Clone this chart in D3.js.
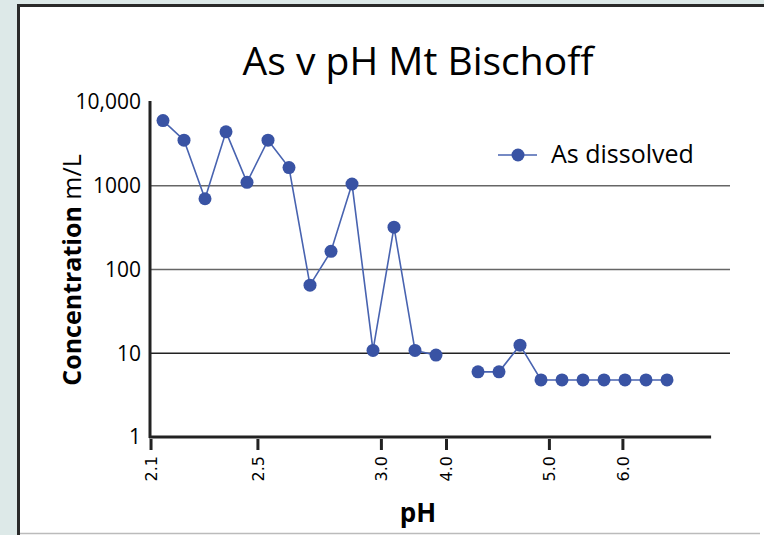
<!DOCTYPE html>
<html>
<head>
<meta charset="utf-8">
<script src="https://cdn.jsdelivr.net/npm/d3@7"></script>
<style>
  body { margin: 0; background: #dde9e8; }
  svg { display: block; }
  .hand { font-family: "Comic Sans MS", "Open Sans", sans-serif; }
</style>
</head>
<body>
<svg id="chart" width="764" height="535"></svg>
<script>
// sample order (index along the x axis), null = no sample
var arsenic = [6000, 3500, 700, 4400, 1100, 3500, 1650, 65, 165, 1050, 10.8, 320, 10.8, 9.5,
               null, 6, 6, 12.5, 4.8, 4.8, 4.8, 4.8, 4.8, 4.8, 4.8];
var phLabels = ["2.1", "2.5", "3.0", "4.0", "5.0", "6.0"];
var phTickAt = [-0.57, 4.52, 10.4, 13.5, 18.4, 21.9];   // position along sample order
var yTicks = [1, 10, 100, 1000, 10000];
var yTickText = ["1", "10", "100", "1000", "10,000"];
var gridAt = [10, 100, 1000];

var svg = d3.select("#chart");

// white panel with dark frame
svg.append("rect").attr("x", 18.5).attr("y", 5.5).attr("width", 750).attr("height", 540)
  .attr("fill", "#fff").attr("stroke", "#2a2a2a").attr("stroke-width", 3);
svg.append("line").attr("x1", 20).attr("x2", 760).attr("y1", 533.5).attr("y2", 533.5)
  .attr("stroke", "#bbb").attr("stroke-width", 1.5);

var x = d3.scaleLinear().domain([0, 24]).range([163, 667]);
var y = d3.scaleLog().domain([1, 10000]).range([437, 102]);

// grid lines
svg.selectAll(".grid").data(gridAt).enter().append("line")
  .attr("class", "grid")
  .attr("x1", 150).attr("x2", 730)
  .attr("y1", function(d) { return y(d); }).attr("y2", function(d) { return y(d); })
  .attr("stroke", function(d) { return d == 10 ? "#222" : "#666"; })
  .attr("stroke-width", 1.5);

// axes
svg.append("line").attr("x1", 150).attr("x2", 150).attr("y1", 101).attr("y2", 438)
  .attr("stroke", "#222").attr("stroke-width", 3);
svg.append("line").attr("x1", 149).attr("x2", x(26.1)).attr("y1", 437).attr("y2", 437)
  .attr("stroke", "#222").attr("stroke-width", 3);

svg.selectAll(".ytick").data(yTicks).enter().append("text")
  .attr("class", "ytick hand")
  .attr("x", 141).attr("y", function(d) { return y(d); })
  .attr("dy", "0.35em").attr("text-anchor", "end")
  .style("font-size", "21px")
  .text(function(d, i) { return yTickText[i]; });

var xt = svg.selectAll(".xtick").data(phTickAt).enter().append("g")
  .attr("class", "xtick")
  .attr("transform", function(d) { return "translate(" + x(d) + ",437)"; });
xt.append("line").attr("y1", 2).attr("y2", 13).attr("stroke", "#222").attr("stroke-width", 3);
xt.append("text")
  .attr("transform", "rotate(-90)")
  .attr("x", -19).attr("dy", "0.35em").attr("text-anchor", "end")
  .style("font-family", "DejaVu Sans, sans-serif").style("font-size", "16px")
  .text(function(d, i) { return phLabels[i]; });

// axis titles
svg.append("text").attr("class", "hand")
  .attr("x", 418).attr("y", 522).attr("text-anchor", "middle")
  .style("font-size", "26px").style("font-weight", "bold").text("pH");
var yt = svg.append("text").attr("class", "hand")
  .attr("transform", "translate(81,270) rotate(-90)")
  .attr("text-anchor", "middle");
yt.append("tspan").style("font-size", "25px").style("font-weight", "bold").text("Concentration ");
yt.append("tspan").style("font-size", "25px").text("m/L");

// title
svg.append("text").attr("class", "hand")
  .attr("x", 418).attr("y", 75).attr("text-anchor", "middle")
  .style("font-size", "39px").text("As v pH Mt Bischoff");

// series
var line = d3.line()
  .defined(function(d) { return d != null; })
  .x(function(d, i) { return x(i); })
  .y(function(d) { return y(d); });

svg.append("path").datum(arsenic)
  .attr("d", line).attr("fill", "none")
  .attr("stroke", "#4863b0").attr("stroke-width", 1.6);

svg.selectAll(".dot").data(arsenic.map(function(d, i) { return {i: i, v: d}; })
    .filter(function(d) { return d.v != null; }))
  .enter().append("circle")
  .attr("class", "dot")
  .attr("cx", function(d) { return x(d.i); })
  .attr("cy", function(d) { return y(d.v); })
  .attr("r", 6.5).attr("fill", "#3953a4");

// legend
var lg = svg.append("g").attr("transform", "translate(498,155)");
lg.append("line").attr("x1", 0).attr("x2", 39).attr("stroke", "#4863b0").attr("stroke-width", 1.6);
lg.append("circle").attr("cx", 20).attr("r", 6.5).attr("fill", "#3953a4");
lg.append("text").attr("class", "hand").attr("x", 53).attr("dy", "0.32em")
  .style("font-size", "25px").text("As dissolved");
</script>
</body>
</html>
